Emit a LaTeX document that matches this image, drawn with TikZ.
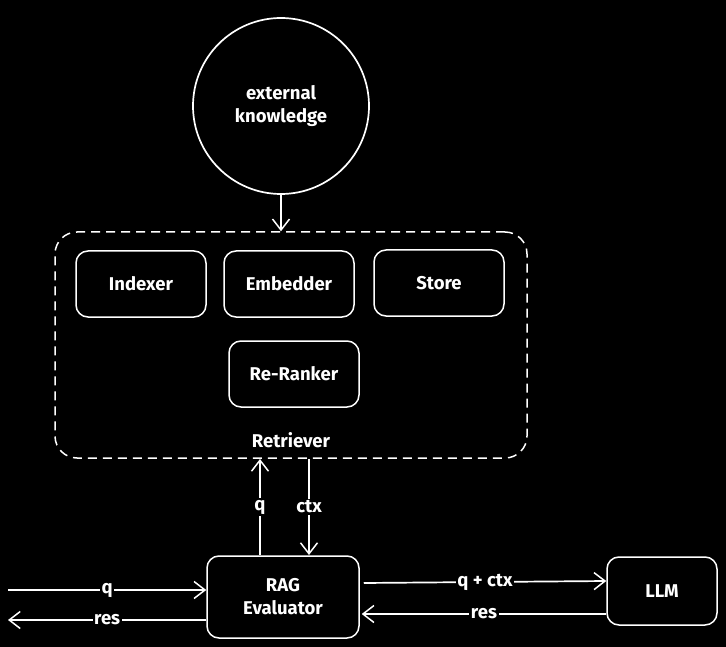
\documentclass[tikz,border=0pt]{standalone}
\usepackage{fontspec}
\setmainfont{Fira Sans}
\usetikzlibrary{arrows.meta}
\begin{document}
\begin{tikzpicture}[x=1pt,y=-1pt,
  every node/.style={text=white,font=\fontsize{18.5}{23}\selectfont\bfseries},
  box/.style={draw=white,line width=1.5pt,rounded corners=12pt,fill=black,inner sep=0pt},
  conn/.style={draw=white,line width=1.7pt,-{Straight Barb[length=11pt,width=17pt,line width=1.5pt]}},
  lbl/.style={fill=black,inner sep=1.5pt}]
\fill[black] (0,0) rectangle (726,647);
\useasboundingbox (0,0) rectangle (726,647);
\node[circle,draw=white,line width=1.7pt,minimum size=176pt,align=center,inner sep=0pt] (ext) at (281,106) {external\\knowledge};
\node[draw=white,line width=1.5pt,dashed,dash pattern=on 9pt off 6pt,rounded corners=22pt,minimum width=472pt,minimum height=226pt,inner sep=0pt] (ret) at (291,345) {};
\node (retl) at (291,440) {Retriever};
\node[box,minimum width=130pt,minimum height=66pt] (idx) at (141,284) {Indexer};
\node[box,minimum width=130pt,minimum height=66pt] (emb) at (289,284) {Embedder};
\node[box,minimum width=130pt,minimum height=66pt] (sto) at (439,283) {Store};
\node[box,minimum width=130pt,minimum height=66pt] (rr) at (294,374) {Re-Ranker};
\node[box,minimum width=152pt,minimum height=82pt,align=center] (eval) at (283,597) {RAG\\Evaluator};
\node[box,minimum width=110pt,minimum height=68pt] (llm) at (662,591) {LLM};
\coordinate (lin) at (8,590);
\coordinate (lout) at (8,620);
\draw[conn] (ext.south) -- (ext.south |- ret.north);
\draw[conn] (260,555) -- node[lbl]{q} (260,459);
\draw[conn] (309,459) -- node[lbl]{ctx} (309,555);
\draw[conn] (lin) -- node[lbl]{q} (lin -| eval.west);
\draw[conn] (eval.west |- lout) -- node[lbl]{res} (lout);
\draw[conn] ([xshift=4pt]eval.east |- 0,583) -- node[lbl]{q + ctx} (llm.west |- 0,581);
\draw[conn] (llm.west |- 0,614) -- node[lbl]{res} ([xshift=2pt]eval.east |- 0,614);
\end{tikzpicture}
\end{document}
